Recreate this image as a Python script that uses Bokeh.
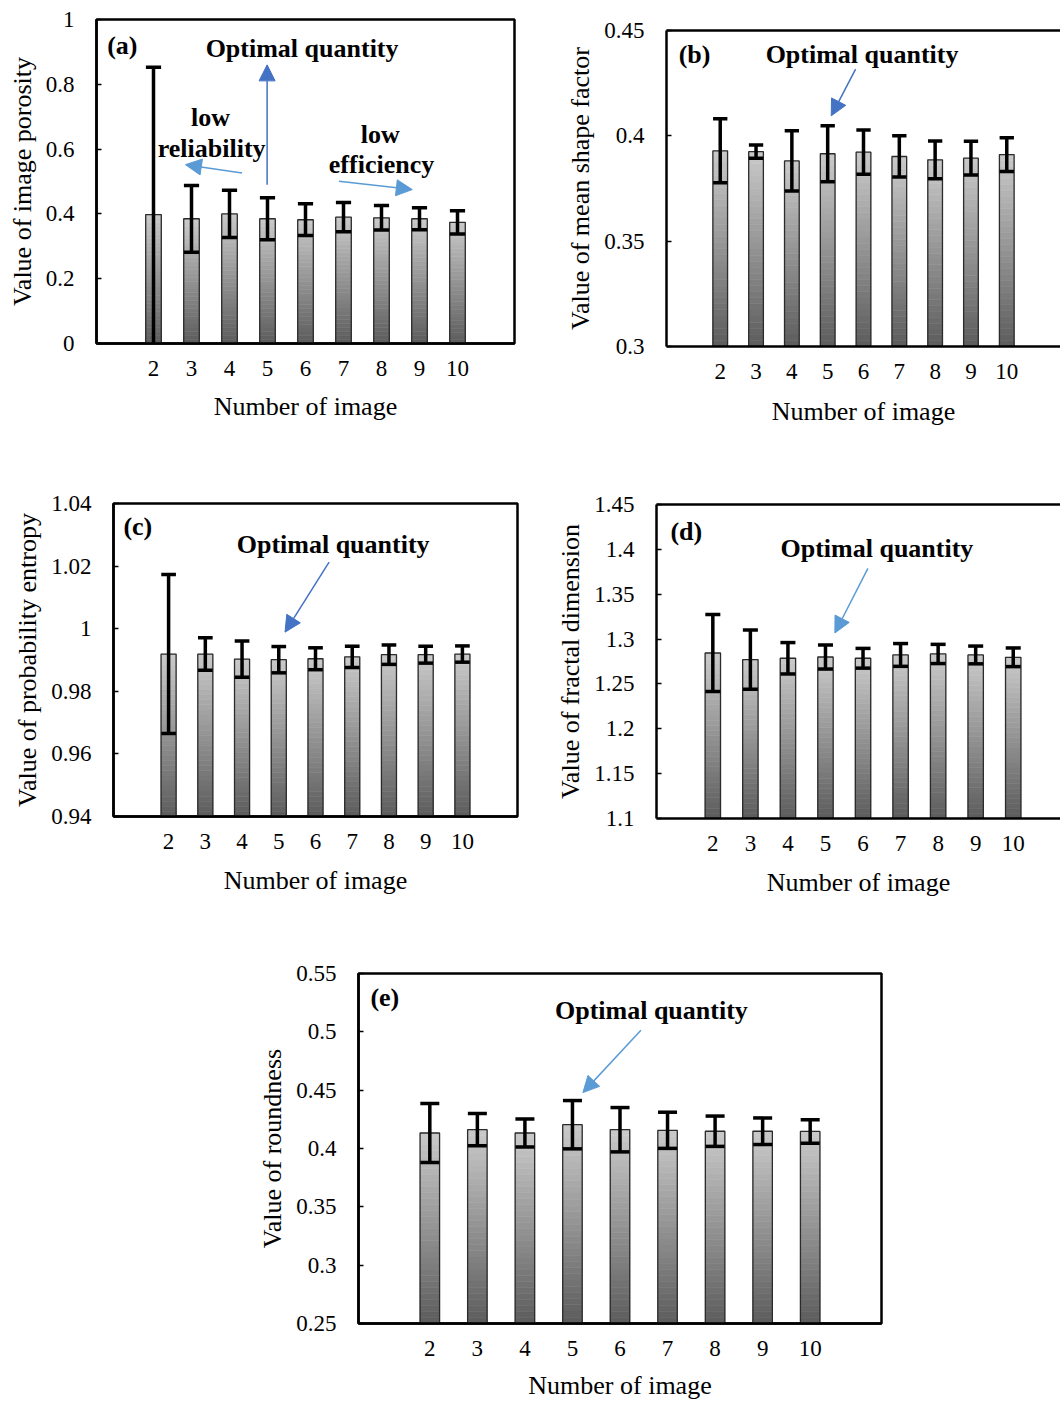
import numpy as np
from bokeh.plotting import figure
from bokeh.layouts import row, column
from bokeh.models import Range1d, FixedTicker, LinearAxis, Arrow, NormalHead
from bokeh.core.properties import value
from bokeh.embed import file_html
from bokeh.resources import INLINE

# ---------------- data ----------------
images = [2, 3, 4, 5, 6, 7, 8, 9, 10]

porosity_mean = [0.398, 0.385, 0.400, 0.385, 0.382, 0.390, 0.388, 0.385, 0.374]
porosity_err = [0.455, 0.103, 0.073, 0.065, 0.049, 0.045, 0.038, 0.034, 0.036]

shape_mean = [0.3929, 0.3925, 0.3881, 0.3915, 0.3923, 0.3902, 0.3886, 0.3894, 0.3911]
shape_err = [0.0152, 0.0032, 0.0143, 0.0133, 0.0105, 0.0098, 0.0090, 0.0080, 0.0080]

entropy_mean = [0.9919, 0.9919, 0.9903, 0.9901, 0.9904, 0.9910, 0.9917, 0.9917, 0.9919]
entropy_err = [0.0254, 0.0052, 0.0058, 0.0042, 0.0035, 0.0034, 0.0031, 0.0027, 0.0026]

fractal_mean = [1.2845, 1.2771, 1.2786, 1.2800, 1.2786, 1.2823, 1.2834, 1.2823, 1.2797]
fractal_err = [0.0430, 0.0330, 0.0175, 0.0134, 0.0110, 0.0127, 0.0107, 0.0099, 0.0104]

round_mean = [0.4133, 0.4161, 0.4133, 0.4204, 0.4161, 0.4156, 0.4148, 0.4148, 0.4146]
round_err = [0.0252, 0.0138, 0.0120, 0.0207, 0.0190, 0.0155, 0.0130, 0.0114, 0.0100]

porosity_ticks = [0, 0.2, 0.4, 0.6, 0.8, 1]
porosity_labels = ["0", "0.2", "0.4", "0.6", "0.8", "1"]
shape_ticks = [0.3, 0.35, 0.4, 0.45]
shape_labels = ["0.3", "0.35", "0.4", "0.45"]
entropy_ticks = [0.94, 0.96, 0.98, 1.0, 1.02, 1.04]
entropy_labels = ["0.94", "0.96", "0.98", "1", "1.02", "1.04"]
fractal_ticks = [1.1, 1.15, 1.2, 1.25, 1.3, 1.35, 1.4, 1.45]
fractal_labels = ["1.1", "1.15", "1.2", "1.25", "1.3", "1.35", "1.4", "1.45"]
round_ticks = [0.25, 0.3, 0.35, 0.4, 0.45, 0.5, 0.55]
round_labels = ["0.25", "0.3", "0.35", "0.4", "0.45", "0.5", "0.55"]

x_title = "Number of image"
opt_text = "Optimal quantity"

FONT = "Liberation Serif"
BLUE_DARK = "#4472C4"
BLUE_LIGHT = "#5B9BD5"
BAR_W = 0.41
N_SLICES = 32


def make_panel(width, height, borders, y0, y1, x_end, ticks, labels, means, errs,
               ylabel, closed, texts, arrows, xlabel_standoff=13):
    ml, mr, mt, mb = borders
    p = figure(width=width, height=height, output_backend="svg", toolbar_location=None,
               x_range=Range1d(0.5, x_end), y_range=Range1d(y0, y1),
               min_border_left=ml, min_border_right=mr,
               min_border_top=mt, min_border_bottom=mb,
               background_fill_color="white", border_fill_color="white")
    p.grid.visible = False

    xa = p.below[0]
    xa.ticker = FixedTicker(ticks=images)
    xa.major_label_overrides = {i: str(i) for i in images}
    xa.major_tick_line_color = None
    xa.minor_tick_line_color = None
    xa.major_tick_in = 0
    xa.major_tick_out = 0
    xa.axis_line_width = 2.5
    xa.axis_line_color = "black"
    xa.major_label_text_font = FONT
    xa.major_label_text_font_size = "23px"
    xa.major_label_text_color = "black"
    xa.major_label_standoff = 17
    xa.axis_label = x_title
    xa.axis_label_text_font = FONT
    xa.axis_label_text_font_size = "26px"
    xa.axis_label_text_font_style = "normal"
    xa.axis_label_text_color = "black"
    xa.axis_label_standoff = xlabel_standoff

    ya = p.left[0]
    ya.ticker = FixedTicker(ticks=ticks)
    ya.major_label_overrides = {t: l for t, l in zip(ticks, labels)}
    ya.minor_tick_line_color = None
    ya.major_tick_in = 5
    ya.major_tick_out = 0
    ya.major_tick_line_width = 1.5
    ya.major_tick_line_color = "black"
    ya.axis_line_width = 2.5
    ya.axis_line_color = "black"
    ya.major_label_text_font = FONT
    ya.major_label_text_font_size = "23px"
    ya.major_label_text_color = "black"
    ya.major_label_standoff = 22
    ya.axis_label = ylabel
    ya.axis_label_text_font = FONT
    ya.axis_label_text_font_size = "26px"
    ya.axis_label_text_font_style = "normal"
    ya.axis_label_text_color = "black"
    ya.axis_label_standoff = 6

    if closed:
        p.outline_line_color = "black"
        p.outline_line_width = 2.5
        p.outline_line_alpha = 1.0
    else:
        p.outline_line_color = None
        top_ax = LinearAxis(ticker=FixedTicker(ticks=[]), axis_line_width=2.5,
                            axis_line_color="black", major_label_text_font_size="0px",
                            major_tick_line_color=None, minor_tick_line_color=None,
                            major_tick_in=0, major_tick_out=0, major_label_standoff=0)
        p.add_layout(top_ax, "above")

    # gradient bars built from slices of each bar
    xs, bots, tops, cols = [], [], [], []
    light, dark = 202, 92
    for x, m in zip(images, means):
        for k in range(N_SLICES):
            b = y0 + (m - y0) * k / N_SLICES
            t = y0 + (m - y0) * (k + 1) / N_SLICES
            g = int(round(dark + (light - dark) * (k + 0.5) / N_SLICES))
            xs.append(x)
            bots.append(b)
            tops.append(t)
            cols.append("#%02x%02x%02x" % (g, g, g))
    p.vbar(x=xs, bottom=bots, top=tops, width=BAR_W, fill_color=cols,
           line_color=cols, line_width=0.6)
    p.vbar(x=images, bottom=y0, top=means, width=BAR_W, fill_color=None,
           line_color="#2b2b2b", line_width=1.3)

    lo = [m - e for m, e in zip(means, errs)]
    hi = [m + e for m, e in zip(means, errs)]
    p.segment(x0=images, y0=lo, x1=images, y1=hi, line_color="black", line_width=3.5)
    cap_l = [x - 0.2 for x in images]
    cap_r = [x + 0.2 for x in images]
    p.segment(x0=cap_l, y0=hi, x1=cap_r, y1=hi, line_color="black", line_width=3.5)
    p.segment(x0=cap_l, y0=lo, x1=cap_r, y1=lo, line_color="black", line_width=3.5)

    for (tx, ty, txt, align) in texts:
        p.text(x=[tx], y=[ty], text=[txt], text_font=value(FONT),
               text_font_style="bold", text_font_size="26px", text_color="black",
               text_align=align, text_baseline="middle")

    for (xs0, ys0, xe, ye, c) in arrows:
        p.add_layout(Arrow(end=NormalHead(size=16, fill_color=c, line_color=c),
                           x_start=xs0, y_start=ys0, x_end=xe, y_end=ye,
                           line_color=c, line_width=1.5))
    return p


pa = make_panel(545, 455, (96, 31, 19, 112), 0, 1, 11.5,
                porosity_ticks, porosity_labels, porosity_mean, porosity_err,
                "Value of image porosity", True,
                [(0.78, 0.92, "(a)", "left"), (5.91, 0.91, opt_text, "center"),
                 (3.5, 0.696, "low", "center"), (3.53, 0.603, "reliability", "center"),
                 (7.97, 0.646, "low", "center"), (8.0, 0.553, "efficiency", "center")],
                [(4.99, 0.49, 4.99, 0.86, BLUE_DARK),
                 (4.33, 0.526, 2.84, 0.552, BLUE_LIGHT),
                 (6.88, 0.501, 8.81, 0.475, BLUE_LIGHT)])

pb = make_panel(515, 455, (121, 0, 30, 109), 0.3, 0.45, 11.5,
                shape_ticks, shape_labels, shape_mean, shape_err,
                "Value of mean shape factor", False,
                [(0.84, 0.4388, "(b)", "left"), (5.96, 0.4388, opt_text, "center")],
                [(5.78, 0.4317, 5.1, 0.4095, BLUE_DARK)], xlabel_standoff=15)

pc = make_panel(545, 475, (113, 28, 48, 114), 0.94, 1.04, 11.5,
                entropy_ticks, entropy_labels, entropy_mean, entropy_err,
                "Value of probability entropy", True,
                [(0.77, 1.0325, "(c)", "left"), (6.48, 1.027, opt_text, "center")],
                [(6.37, 1.0213, 5.17, 0.9989, BLUE_DARK)], xlabel_standoff=14)

pd = make_panel(515, 475, (111, 0, 49, 112), 1.1, 1.45, 0.5 + 404 / 37.55,
                fractal_ticks, fractal_labels, fractal_mean, fractal_err,
                "Value of fractal dimension", False,
                [(0.87, 1.4195, "(d)", "left"), (6.37, 1.4013, opt_text, "center")],
                [(6.13, 1.3787, 5.25, 1.3068, BLUE_LIGHT)], xlabel_standoff=14)

pe = make_panel(1060, 474, (358, 179, 43, 81), 0.25, 0.55, 11.5,
                round_ticks, round_labels, round_mean, round_err,
                "Value of roundness", True,
                [(0.75, 0.5292, "(e)", "left"), (6.66, 0.518, opt_text, "center")],
                [(6.44, 0.5014, 5.22, 0.4479, BLUE_LIGHT)],
                xlabel_standoff=12)

layout = column(row(column(pa), column(pb)), row(column(pc), column(pd)), pe)

open("out.html", "w").write(file_html(layout, INLINE))
